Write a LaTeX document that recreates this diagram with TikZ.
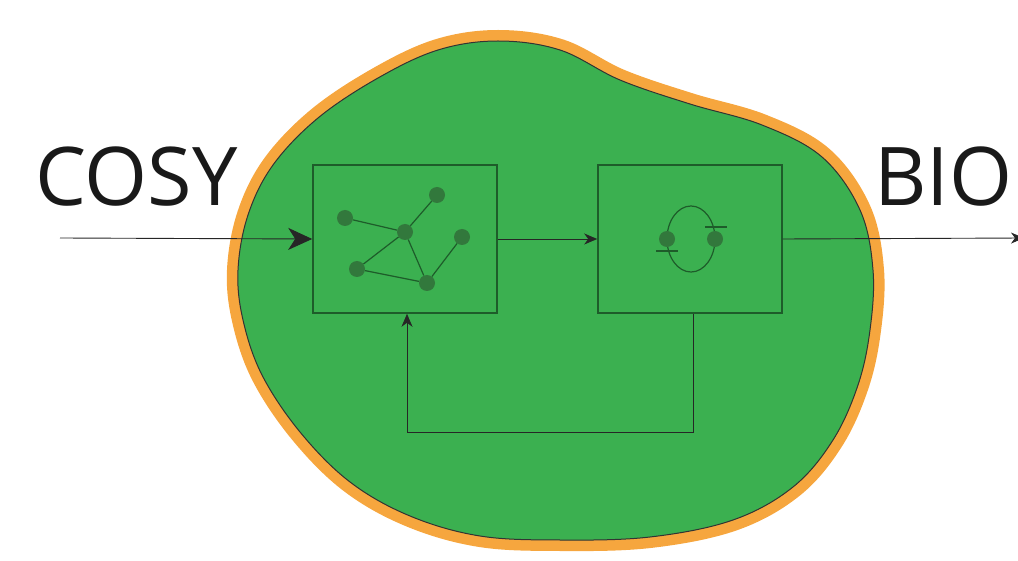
\documentclass[tikz,border=0pt]{standalone}
\usepackage{fontspec}
\setmainfont{Open Sans}
\usetikzlibrary{arrows.meta,positioning}

\definecolor{cellgreen}{RGB}{59,176,80}
\definecolor{membrane}{RGB}{246,166,62}
\definecolor{boxline}{RGB}{30,92,42}
\definecolor{dotgreen}{RGB}{50,120,60}

\tikzset{
  block/.style={draw=boxline, line width=1.6pt, minimum width=184pt, minimum height=148pt, inner sep=0pt},
  dot/.style={circle, fill=dotgreen, inner sep=0pt, minimum size=16pt},
  link/.style={draw=boxline, line width=1.2pt},
  flow/.style={line width=0.9pt, draw=black!85},
  label/.style={font=\fontsize{81}{81}\selectfont, text=black!90, inner sep=0pt, anchor=base west}
}

\begin{document}
\begin{tikzpicture}[x=1pt, y=-1pt]
\useasboundingbox (0,0) rectangle (1018,561);
\clip (0,0) rectangle (1018,561);

% cell body with its membrane
\def\cellpath{plot[smooth cycle, tension=0.6] coordinates {
  (238,270) (248,215) (273,165) (318,118) (378,78) (438,50) (498,41)
  (560,50) (620,80) (690,104) (762,125) (822,157) (860,210) (873,270)
  (870,330) (858,385) (833,440) (793,487) (733,520) (650,537) (560,540)
  (480,536) (410,516) (350,482) (300,432) (262,375) (243,320)}}
\draw[membrane, line width=22pt, line join=round] \cellpath;
\fill[cellgreen] \cellpath;
\draw[black!80, line width=1pt] \cellpath;

% labels
\node[label] (cosy) at (35,206) {COSY};
\node[label] (bio) at (874,206) {BIO};

% the two blocks
\node[block] (net) at (405,239) {};
\node[block] (osc) at (690,239) {};

% network inside the first block
\node[dot] (n1) at (345,218) {};
\node[dot] (n2) at (437,195) {};
\node[dot] (n3) at (405,232) {};
\node[dot] (n4) at (462,237) {};
\node[dot] (n5) at (357,269) {};
\node[dot] (n6) at (427,283) {};
\draw[link] (n1) -- (n3);
\draw[link] (n2) -- (n3);
\draw[link] (n3) -- (n5);
\draw[link] (n3) -- (n6);
\draw[link] (n5) -- (n6);
\draw[link] (n6) -- (n4);

% cycle inside the second block
\draw[link] (667,239) arc[start angle=180, end angle=0, x radius=24, y radius=-33];
\draw[link] (715,239) arc[start angle=0, end angle=-180, x radius=24, y radius=-33];
\draw[link] (705,227) -- (727,227);
\draw[link] (656,251) -- (678,251);
\node[dot] (c1) at (667,239) {};
\node[dot] (c2) at (715,239) {};

% signal flow
\coordinate (in) at (60,238);
\coordinate (out) at (1024,238);
\coordinate (fbr) at (693,432);
\coordinate (fbl) at (407,432);
\draw[flow, -{Stealth[length=24pt, width=22pt, inset=7pt]}] (in) -- (net.west);
\draw[flow, -{Stealth[length=13pt, width=11pt, inset=4pt]}] (net.east) -- (osc.west);
\draw[flow, -{Stealth[length=13pt, width=11pt, inset=4pt]}] (osc.east) -- (out);
\draw[flow, -{Stealth[length=13pt, width=11pt, inset=4pt]}] (osc.south -| fbr) -- (fbr) -- (fbl) -- (net.south -| fbl);
\end{tikzpicture}
\end{document}
